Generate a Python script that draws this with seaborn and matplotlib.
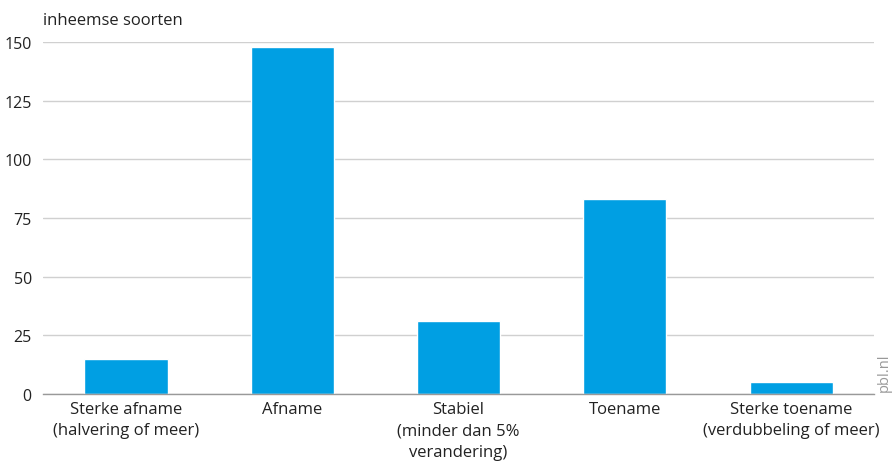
import pandas as pd
import matplotlib.pyplot as plt
import seaborn as sns

# --- Data ---
categories = [
    "Sterke afname\n(halvering of meer)",
    "Afname",
    "Stabiel\n(minder dan 5%\nverandering)",
    "Toename",
    "Sterke toename\n(verdubbeling of meer)",
]
aantal = [15, 148, 31, 83, 5]
yticks = [0, 25, 50, 75, 100, 125, 150]

df = pd.DataFrame({"categorie": categories, "aantal": aantal})

sns.set_style("white")
plt.rcParams["font.family"] = ["Open Sans", "DejaVu Sans"]

fig = plt.figure(figsize=(8.93, 4.64), dpi=100)
ax = fig.add_axes([0.048, 0.149, 0.931, 0.758])

sns.barplot(data=df, x="categorie", y="aantal", color="#009FE3",
            width=0.5, saturation=1, ax=ax)

ax.set_ylim(0, 150)
ax.set_xlim(-0.5, 4.5)
ax.set_yticks(yticks)
ax.set_yticklabels([str(t) for t in yticks], fontsize=11.5, color="#222222")
ax.tick_params(axis="x", labelsize=12, colors="#222222", length=0, pad=5)
ax.tick_params(axis="y", length=0, pad=8)
for lbl in ax.get_xticklabels():
    lbl.set_linespacing(1.45)
ax.set_xlabel("")
ax.set_ylabel("")

# --- Grid & spines ---
ax.yaxis.grid(True, color="#d0d0d0", linewidth=1)
ax.set_axisbelow(True)
for s in ["top", "right", "left"]:
    ax.spines[s].set_visible(False)
ax.spines["bottom"].set_color("#999999")
ax.spines["bottom"].set_linewidth(1)

fig.text(0.048, 0.955, "inheemse soorten", fontsize=12, color="#222222",
         ha="left", va="center")
fig.text(0.990, 0.196, "pbl.nl", fontsize=10.5, color="#999999",
         rotation=90, ha="center", va="center")

fig.savefig("out.png", dpi=100)
